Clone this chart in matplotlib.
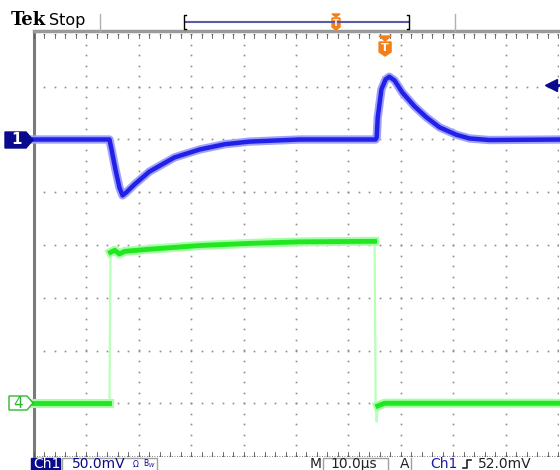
import numpy as np
import matplotlib.pyplot as plt
from matplotlib.patches import Polygon, Rectangle

# time in us (10 us/div), levels in divisions relative to each channel's ground marker
CH1_T = [0, 14.4, 14.8, 15.55, 16.3, 16.9, 17.65, 19.2, 22.0, 26.8, 31.6, 36.4, 41.1,
         45.9, 50.7, 65.2, 65.4, 65.6, 66.3, 67.1, 67.8, 68.8, 70.3, 72.6, 74.9, 77.4,
         80.6, 83.1, 86.9, 100.5]
CH1_V = [0, 0, -0.19, -0.57, -0.91, -1.06, -1.0, -0.85, -0.61, -0.34, -0.19, -0.09, -0.04,
         -0.02, 0, 0, 0.04, 0.42, 0.95, 1.14, 1.19, 1.12, 0.89, 0.63, 0.42, 0.23,
         0.09, 0.02, -0.01, 0]
CH4_T = [0, 14.4, 14.6, 15.4, 16.3, 17.3, 22.0, 31.6, 41.1, 50.7, 65.0, 65.2, 65.4,
         65.6, 66.9, 100.5]
CH4_V = [0, 0, 2.86, 2.90, 2.83, 2.88, 2.92, 2.99, 3.03, 3.06, 3.07, 0, -0.35,
         -0.05, 0, 0]
CH4_EDGES = [(1, 2), (10, 13)]   # fast edges, drawn faint
CH1_POS = 2.0      # div
CH4_POS = -3.0     # div
TRIG_LEVEL = 52.0  # mV
CH1_SCALE = 50.0   # mV/div
TRIG_T = 67.0      # us

W, H = 560, 470


def fx(x):
    return x / W


def fy(y):
    return 1 - y / H


def main():
    fig = plt.figure(figsize=(W / 100, H / 100), dpi=100)
    fig.patch.set_facecolor('white')
    ax = fig.add_axes([fx(34), fy(456), fx(558) - fx(34), fy(34) - fy(456)])
    ax.set_xlim(0, 100)
    ax.set_ylim(-4, 4)
    ax.axis('off')

    # graticule dots
    grey = '#8a8a8a'
    for gx in range(0, 101, 10):
        ys = np.arange(-4, 4.01, 0.2)
        ax.plot([gx] * len(ys), ys, ls='none', marker='s', ms=1.2, color=grey, mew=0)
    for gy in range(-4, 5):
        xs = np.arange(0, 100.1, 2)
        ax.plot(xs, [gy] * len(xs), ls='none', marker='s', ms=1.2, color=grey, mew=0)
    # frame
    ax.plot([0, 0], [-4, 4.05], color='#7a7a7a', lw=2.2, clip_on=False)
    ax.plot([0, 100.5], [4.05, 4.05], color='#9a9a9a', lw=2.5, clip_on=False)
    ax.plot([0, 100.5], [-4, -4], color='#555555', lw=0.6, ls=(0, (1, 2)), clip_on=False)
    for tx in np.arange(0, 100.1, 2):
        ax.plot([tx, tx], [-4, -3.93], color='#555555', lw=0.6, clip_on=False)
        ax.plot([tx, tx], [3.93, 4], color='#555555', lw=0.6, clip_on=False)

    # traces
    y1 = np.array(CH1_V) + CH1_POS
    y4 = np.array(CH4_V) + CH4_POS
    t4 = np.array(CH4_T)
    ax.plot(t4, y4, color='#b8ffb8', lw=1.6, clip_on=False)
    starts = [0] + [b for a, b in CH4_EDGES]
    ends = [a for a, b in CH4_EDGES] + [len(t4) - 1]
    for s, e in zip(starts, ends):
        ax.plot(t4[s:e + 1], y4[s:e + 1], color='#a6ffa6', lw=6.5,
                solid_joinstyle='round', clip_on=False)
    for s, e in zip(starts, ends):
        ax.plot(t4[s:e + 1], y4[s:e + 1], color='#22e622', lw=3.5,
                solid_joinstyle='round', clip_on=False)
    ax.plot(CH1_T, y1, color='#a0a0ff', lw=6.0, solid_joinstyle='round', clip_on=False)
    ax.plot(CH1_T, y1, color='#2020e6', lw=3.2, solid_joinstyle='round', clip_on=False)

    navy = '#0a0a8c'
    orange = '#f57f17'

    # channel ground markers
    fig.patches.append(Polygon([(fx(5), fy(132)), (fx(26), fy(132)), (fx(33), fy(140)),
                                (fx(26), fy(148)), (fx(5), fy(148))],
                               closed=True, fc=navy, ec=navy, transform=fig.transFigure))
    fig.text(fx(17), fy(140), '1', color='white', fontsize=11, fontweight='bold',
             ha='center', va='center')
    fig.patches.append(Polygon([(fx(9), fy(396)), (fx(27), fy(396)), (fx(33), fy(403)),
                                (fx(27), fy(410)), (fx(9), fy(410))],
                               closed=True, fc='white', ec='#2fb82f', lw=1.0,
                               transform=fig.transFigure))
    fig.text(fx(18), fy(403), '4', color='#2fb82f', fontsize=11, ha='center', va='center')

    # trigger level arrow (right)
    trig_y = CH1_POS + TRIG_LEVEL / CH1_SCALE
    ax.plot([99.0, 101], [trig_y, trig_y], color=navy, lw=2, clip_on=False)
    ax.plot([98.6], [trig_y], marker='<', ms=8, color=navy, clip_on=False)

    # trigger position marker in graticule
    tx_px = 34 + TRIG_T / 100 * 524
    fig.patches.append(Polygon([(fx(tx_px - 6), fy(36)), (fx(tx_px + 6), fy(36)),
                                (fx(tx_px), fy(41))], closed=True, fc=orange, ec=orange,
                               transform=fig.transFigure))
    fig.patches.append(Polygon([(fx(tx_px - 6), fy(42)), (fx(tx_px + 6), fy(42)),
                                (fx(tx_px + 6), fy(52)), (fx(tx_px), fy(56)),
                                (fx(tx_px - 6), fy(52))], closed=True, fc=orange, ec=orange,
                               transform=fig.transFigure))
    fig.text(fx(tx_px), fy(48), 'T', color='white', fontsize=8, fontweight='bold',
             ha='center', va='center')

    # top status bar
    fig.text(fx(11), fy(20), 'Tek', fontsize=13, fontweight='bold',
             family='DejaVu Serif', va='center', ha='left')
    fig.text(fx(49), fy(20), 'Stop', fontsize=11.5, va='center', ha='left')
    for sx in (100, 455):
        fig.add_artist(plt.Line2D([fx(sx), fx(sx)], [fy(14), fy(31)], color='#b0b0b0', lw=1))
    fig.add_artist(plt.Line2D([fx(185), fx(409)], [fy(22), fy(22)], color='#5a5aaa', lw=1.5))
    fig.add_artist(plt.Line2D([fx(186), fx(184), fx(184), fx(186)],
                              [fy(15), fy(15), fy(29), fy(29)], color='black', lw=1))
    fig.add_artist(plt.Line2D([fx(407), fx(409), fx(409), fx(407)],
                              [fy(15), fy(15), fy(29), fy(29)], color='black', lw=1))
    fig.patches.append(Polygon([(fx(332), fy(14)), (fx(340), fy(14)), (fx(336), fy(17))],
                               closed=True, fc=orange, ec=orange, transform=fig.transFigure))
    fig.patches.append(Polygon([(fx(332), fy(18)), (fx(340), fy(18)), (fx(340), fy(27)),
                                (fx(336), fy(30)), (fx(332), fy(27))], closed=True,
                               fc=orange, ec=orange, transform=fig.transFigure))
    fig.text(fx(336), fy(23), 'T', color='white', fontsize=6, fontweight='bold',
             ha='center', va='center')

    # bottom readout
    fs = 10
    base = fy(468)
    fig.patches.append(Rectangle((fx(31), fy(472)), fx(29), fy(458) - fy(472),
                                 fc=navy, ec=navy, transform=fig.transFigure))
    fig.text(fx(33), base, 'Ch1', color='white', fontsize=fs, va='baseline', ha='left')
    fig.patches.append(Rectangle((fx(62), fy(472)), fx(95), fy(458) - fy(472),
                                 fc='none', ec='#a0a0a0', lw=1, transform=fig.transFigure))
    fig.text(fx(72), base, '50.0mV', color=navy, fontsize=fs, va='baseline', ha='left')
    fig.text(fx(133), fy(467), 'Ω', color=navy, fontsize=5.5, va='baseline', ha='left')
    fig.text(fx(143), fy(467), 'B$_W$', color=navy, fontsize=5.5, va='baseline', ha='left')
    fig.text(fx(310), base, 'M', color='#222222', fontsize=fs, va='baseline', ha='left')
    fig.patches.append(Rectangle((fx(323), fy(472)), fx(65), fy(458) - fy(472),
                                 fc='none', ec='#a0a0a0', lw=1, transform=fig.transFigure))
    fig.text(fx(330), base, '10.0µs', color='#222222', fontsize=fs, va='baseline', ha='left')
    fig.text(fx(400), base, 'A', color='#222222', fontsize=fs, va='baseline', ha='left')
    fig.add_artist(plt.Line2D([fx(411), fx(411)], [fy(458), fy(470)], color='#a0a0a0', lw=1))
    fig.text(fx(430), base, 'Ch1', color='#1a1ab0', fontsize=fs, va='baseline', ha='left')
    fig.add_artist(plt.Line2D([fx(463), fx(467), fx(467), fx(471)],
                              [fy(468), fy(468), fy(460), fy(460)], color='#222222', lw=1.2))
    fig.text(fx(478), base, f'{TRIG_LEVEL:.1f}mV', color='#222222', fontsize=fs,
             va='baseline', ha='left')

    fig.savefig('out.png', dpi=100, facecolor='white')


if __name__ == '__main__':
    main()
